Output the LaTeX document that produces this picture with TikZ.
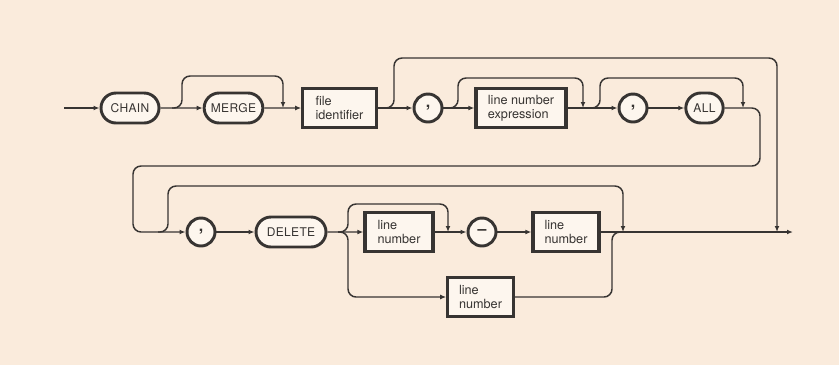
\documentclass[tikz,border=0pt]{standalone}
\usepackage{fontspec}
\setmainfont{TeX Gyre Heros}
\usepackage{tikz}
\usetikzlibrary{arrows.meta,positioning,shapes.misc}
\usepackage{xcolor}
\definecolor{paper}{RGB}{250,235,220}
\definecolor{boxfill}{RGB}{253,246,238}
\definecolor{ink}{RGB}{55,52,50}

\begin{document}
\begin{tikzpicture}[
  x=0.75pt, y=-0.75pt,
  term/.style={rounded rectangle, draw=ink, line width=2.2pt, fill=boxfill,
               minimum height=22.5pt, inner xsep=3pt, text=ink,
               font=\fontsize{9}{12}\selectfont\addfontfeature{LetterSpace=3}},
  nonterm/.style={rectangle, draw=ink, line width=2.4pt, fill=boxfill,
                  minimum height=29.5pt, align=left, text=ink,
                  font=\fontsize{9.5}{10.5}\selectfont},
  sym/.style={circle, draw=ink, line width=2.2pt, fill=boxfill,
              minimum size=21pt, inner sep=0pt, text=ink,
              font=\bfseries\fontsize{12}{12}\selectfont},
  rail/.style={draw=ink, line width=1.1pt, rounded corners=6pt},
  >={Latex[length=4.5pt,width=3.6pt]}
]

  % paper
  \fill[paper] (0,0) rectangle (839,365);

  %--- ROW 1 ---
  \node[term, minimum width=49.5pt] (chain) at (130,108) {CHAIN};
  \node[term, minimum width=50pt] (merge) at (233.5,108) {MERGE};
  \node[nonterm, minimum width=55pt] (fid) at (339.5,108) {file\\identifier};
  \node[sym] (c1) at (428,108) {\raisebox{2pt}{,}};
  \node[nonterm, minimum width=67.5pt] (lne) at (521,108) {line number\\expression};
  \node[sym] (c2) at (633,108) {\raisebox{2pt}{,}};
  \node[term, minimum width=34pt] (all) at (704.5,108) {ALL};

  %--- ROW 2 ---
  \node[sym] (c3) at (201,232) {\raisebox{2pt}{,}};
  \node[term, minimum width=58.5pt] (del) at (291,232) {DELETE};
  \node[nonterm, minimum width=51pt] (ln1) at (399,232) {line\\number};
  \node[sym] (dash) at (482,232) {--};
  \node[nonterm, minimum width=49.5pt] (ln2) at (566,232) {line\\number};
  \node[nonterm, minimum width=49pt] (ln3) at (480.5,297) {line\\number};

  % free ends
  \coordinate (start) at (64,108);
  \coordinate (stop) at (793,232);

  % Main line, row 1
  \draw[rail,->] (start) -- (chain);
  \draw[rail,->] (chain) -- (merge);
  \draw[rail,->] (merge) -- (fid);
  \draw[rail,->] (fid) -- (c1);
  \draw[rail,->] (c1) -- (lne);
  \draw[rail,->] (lne) -- (c2);
  \draw[rail,->] (c2) -- (all);
  % Bypasses, row 1
  \draw[rail,->] (172,108) -| (182,76) -| (283,108);
  \draw[rail,->] (448,108) -| (458,78) -| (583,108);
  \draw[rail,->] (590,108) -| (600,78) -| (743,108);
  \draw[rail,->] (384,108) -| (394,58) -| (777,232);
  % Turn to row 2
  \draw[rail,->] (all) -| (760,166) -| (133,232) -- (c3);

  % Main line, row 2
  \draw[rail,->] (c3) -- (del);
  \draw[rail,->] (del) -- (ln1);
  \draw[rail,->] (ln1) -- (dash);
  \draw[rail,->] (dash) -- (ln2);
  \draw[rail,->] (ln2) -- (stop);
  % Bypasses, row 2
  \draw[rail,->] (158,232) -| (168,186) -| (623,232);
  \draw[rail,->] (338,232) -| (348,204) -| (448,232);
  \draw[rail,->] (338,232) -| (348,297) -- (ln3);
  \draw[rail] (ln3) -| (612,232) -- (624,232);

\end{tikzpicture}
\end{document}
